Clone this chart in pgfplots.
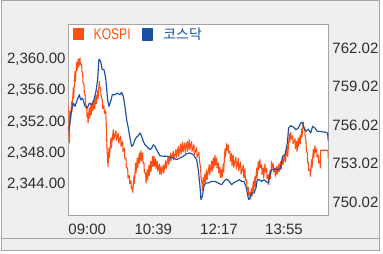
\documentclass[border=0pt]{standalone}
\usepackage{pgfplots}
\pgfplotsset{compat=1.18}
\usepackage{fontspec}
\setmainfont{Liberation Sans}
\newfontfamily\legfont[FakeStretch=0.78]{Liberation Sans}
\newfontfamily\krfont{Noto Sans CJK KR}
\definecolor{kospi}{RGB}{255,80,20}
\definecolor{kosdaq}{RGB}{25,80,160}
\definecolor{bgc}{RGB}{239,239,239}
\definecolor{framec}{RGB}{165,165,165}
\definecolor{ticktext}{RGB}{45,45,45}
\pgfplotsset{
  base/.style={
    scale only axis, width=260pt, height=191.7pt,
    at={(68.3pt,38.3pt)}, anchor=south west,
    xmin=0, xmax=390, major tick length=0pt,
    tick label style={font=\fontsize{15}{15}\selectfont, text=ticktext},
  }
}
\begin{document}
\begin{tikzpicture}[x=1pt,y=1pt]
\useasboundingbox (0,0) rectangle (383,254);
\fill[white] (0,0) rectangle (383,254);
\fill[bgc] (1.5,3.5) rectangle (379,253);
\draw[framec, line width=1pt] (1.5,3.5) rectangle (379,253);
\draw[framec, line width=1pt] (1.5,15) -- (379,15);

\begin{axis}[base,
  axis background/.style={fill=white},
  axis line style={framec, line width=0.8pt},
  ymin=2339.91, ymax=2364.59,
  xtick={0,99,197.5,295}, xticklabels={09:00,10:39,12:17,13:55},
  xticklabel style={anchor=north west, inner sep=0pt, yshift=-8pt},
  ytick={2344,2348,2352,2356,2360},
  yticklabels={{2,344.00},{2,348.00},{2,352.00},{2,356.00},{2,360.00}},
  yticklabel style={anchor=east, inner sep=0pt, xshift=-2.6pt},
  ytick pos=left, xtick pos=bottom,
]
\addplot[kospi, line width=1.1pt, line join=round, no marks] coordinates {
(0,2354.21)(0.6,2352.92)(1,2350.13)(1.6,2349.27)(2.5,2353.34)(3.1,2352.06)
(5,2354.63)(5.6,2353.35)(7.5,2356.35)(8.1,2355.07)(10,2358.49)(10.6,2357.21)
(12.5,2359.66)(13.1,2358.62)(15,2360.09)(15.6,2359.05)(17.5,2360.22)(18.1,2359.36)
(20,2359.45)(20.6,2358.41)(21.5,2358.28)(22.1,2357.00)(23.5,2356.78)(24.1,2355.50)
(25.5,2355.49)(26.1,2354.21)(27.5,2354.12)(28.1,2352.58)(29,2353.13)(29.6,2351.85)
(31.5,2353.77)(32.1,2352.49)(34,2354.20)(34.6,2352.92)(36.5,2354.51)(37.1,2353.47)
(39,2354.73)(39.6,2353.69)(41.5,2355.37)(42.1,2354.33)(44,2356.01)(44.6,2354.97)
(46.5,2357.21)(47.1,2356.35)(48.5,2356.44)(49.1,2355.40)(51,2354.73)(51.6,2353.69)
(53.5,2354.08)(54.1,2353.04)(56,2353.44)(56.6,2352.40)(57.5,2350.13)(58.1,2348.41)
(59,2347.12)(59.6,2346.26)(61,2348.62)(61.6,2347.34)(64,2349.91)(64.6,2348.63)
(67.5,2350.98)(68.1,2349.70)(71.5,2350.85)(72.1,2349.57)(75,2350.55)(75.6,2349.27)
(78.5,2350.12)(79.1,2348.84)(81.5,2349.48)(82.1,2348.20)(84,2348.62)(84.6,2347.34)
(86.5,2347.33)(87.1,2346.05)(89,2346.05)(89.6,2344.77)(91.5,2345.07)(92.1,2344.03)
(94,2344.42)(94.6,2343.38)(96,2343.60)(96.6,2342.92)(98.5,2345.07)(99.1,2344.03)
(101,2346.69)(101.6,2345.41)(103.5,2347.33)(104.1,2346.05)(106.5,2347.98)(107.1,2346.70)
(109,2348.28)(109.6,2347.00)(111.5,2347.98)(112.1,2346.70)(113.5,2346.69)(114.1,2345.41)
(116,2345.40)(116.6,2344.12)(118.5,2345.83)(119.1,2344.55)(121,2346.39)(121.6,2345.11)
(123.5,2346.91)(124.1,2345.63)(126.5,2347.55)(127.1,2346.27)(128.5,2347.55)(129.1,2346.27)
(131,2347.25)(131.6,2345.97)(133.5,2346.91)(134.1,2345.63)(136.5,2346.56)(137.1,2345.28)
(139,2346.27)(139.6,2345.23)(142.5,2346.44)(143.1,2345.40)(146,2347.00)(146.6,2345.96)
(150,2347.56)(150.6,2346.52)(153.5,2347.99)(154.1,2346.95)(157.5,2348.16)(158.1,2347.12)
(161.5,2348.42)(162.1,2347.38)(165,2348.84)(165.6,2347.56)(168.5,2349.14)(169.1,2347.86)
(171.5,2349.39)(172.1,2348.11)(175,2349.27)(175.6,2347.99)(178.5,2349.48)(179.1,2348.20)
(181.5,2349.70)(182.1,2348.42)(185,2349.48)(185.6,2348.20)(188.5,2349.05)(189.1,2347.77)
(192.5,2348.71)(193.1,2347.43)(196,2348.07)(196.6,2347.03)(198.5,2346.05)(199.1,2344.77)
(200.5,2344.21)(201.1,2343.17)(202.5,2344.85)(203.1,2343.81)(205,2345.28)(205.6,2344.24)
(207.5,2345.83)(208.1,2344.55)(211.5,2346.48)(212.1,2345.20)(215,2346.91)(215.6,2345.63)
(217.5,2347.33)(218.1,2346.05)(220,2347.68)(220.6,2346.40)(222.5,2347.33)(223.1,2346.05)
(225,2346.69)(225.6,2345.41)(227.5,2346.13)(228.1,2344.85)(230,2345.84)(230.6,2344.80)
(232.5,2346.57)(233.1,2345.53)(235,2348.50)(235.6,2347.46)(237.5,2349.18)(238.1,2348.32)
(240,2349.02)(240.6,2347.98)(242.5,2348.19)(243.1,2346.91)(245,2347.89)(245.6,2346.35)
(247.5,2347.68)(248.1,2346.14)(251.5,2347.46)(252.1,2345.92)(255,2347.25)(255.6,2345.71)
(258.5,2346.82)(259.1,2345.28)(262.5,2346.39)(263.1,2344.85)(265,2345.96)(265.6,2344.42)
(267.5,2344.54)(268.1,2343.26)(270,2343.57)(270.6,2342.53)(272.5,2342.92)(273.1,2342.06)
(275,2343.44)(275.6,2342.40)(277.5,2344.33)(278.1,2343.05)(280,2344.97)(280.6,2343.69)
(282.5,2346.05)(283.1,2344.77)(285,2346.87)(285.6,2345.83)(287.5,2347.13)(288.1,2346.09)
(290,2346.48)(290.6,2345.20)(292.5,2346.05)(293.1,2344.77)(295,2346.57)(295.6,2345.53)
(297.5,2345.96)(298.1,2344.68)(300,2345.19)(300.6,2343.91)(302.5,2345.71)(303.1,2344.67)
(305,2346.91)(305.6,2346.05)(307.5,2346.57)(308.1,2345.53)(310,2346.01)(310.6,2344.97)
(312.5,2346.27)(313.1,2345.23)(315.5,2346.57)(316.1,2345.53)(318.5,2346.87)(319.1,2345.83)
(321.5,2347.56)(322.1,2346.52)(325,2347.86)(325.6,2346.82)(328.5,2348.84)(329.1,2347.56)
(331.5,2350.43)(332.1,2349.39)(333.5,2350.64)(334.1,2349.78)(336.5,2350.22)(337.1,2349.18)
(340,2349.82)(340.6,2348.54)(342.5,2349.48)(343.1,2348.20)(345,2349.88)(345.6,2348.84)
(347.5,2350.22)(348.1,2349.18)(350,2351.08)(350.6,2350.04)(352.5,2351.97)(353.1,2351.29)
(354.5,2351.29)(355.1,2350.25)(356.5,2349.48)(357.1,2348.20)(358.5,2347.98)(359.1,2346.70)
(360,2346.79)(360.6,2345.75)(362.5,2345.84)(363.1,2344.98)(365,2347.13)(365.6,2346.09)
(367.5,2348.42)(368.1,2347.38)(370,2348.93)(370.6,2348.07)(372.5,2348.50)(373.1,2347.46)
(375,2347.73)(375.6,2346.69)(377.5,2346.91)(378.1,2346.05)
(378.5,2348.33)(389.5,2348.33)(390,2347.34)
};
\end{axis}

\begin{axis}[base,
  axis line style={draw=none},
  ymin=748.98, ymax=763.89,
  xtick=\empty,
  ytick={750.02,753.02,756.02,759.02,762.02},
  yticklabels={750.02,753.02,756.02,759.02,762.02},
  yticklabel pos=right, ytick pos=right,
  yticklabel style={anchor=west, inner sep=0pt, xshift=4pt},
  legend columns=2,
  legend image code/.code={\fill[#1] (0pt,-5.5pt) rectangle (10.5pt,5.5pt);},
  legend style={at={(axis description cs:0,1)}, anchor=north west,
    xshift=4.7pt, yshift=-3.7pt, draw=none, fill=none, inner sep=0pt,
    nodes={inner sep=0pt},
    /tikz/every odd column/.append style={column sep=10pt},
    /tikz/every even column/.append style={column sep=11pt}},
]
\addlegendimage{kospi, line width=0pt}
\addlegendentry{\textcolor{kospi}{\legfont\fontsize{15.5}{15.5}\selectfont KOSPI}}
\addplot[kosdaq, line width=1.15pt, line join=round, no marks] coordinates {
(0,755.54)(2.5,756.19)(5,757.22)(7.5,757.74)(10,757.48)(13.5,758.00)(16.5,758.39)
(18.5,758.00)(21.5,758.13)(25,757.48)(28.5,757.35)(31.5,757.74)(35,757.61)(38.5,758.00)
(41.5,758.65)(44,759.56)(46,761.16)(48.5,760.98)(51,760.34)(53.5,760.34)(56,759.69)
(57.5,758.91)(59,758.00)(61,757.48)(63.5,757.87)(66,758.39)(70,758.39)(73.5,758.52)
(77.5,758.39)(80,758.57)(82.5,758.26)(85,757.48)(87.5,756.45)(90,755.80)(92.5,755.02)
(95,754.37)(97.5,754.50)(100,754.89)(102.5,755.10)(105,755.20)(107.5,755.41)(110,755.15)
(112.5,754.76)(115,754.50)(117.5,754.37)(120,754.24)(122.5,754.11)(125,754.24)(127.5,754.50)
(130,754.37)(132.5,754.11)(135,753.86)(137.5,753.65)(142.5,753.60)(147.5,753.60)(152.5,753.54)
(157.5,753.47)(162.5,753.34)(167.5,753.47)(172.5,753.60)(177.5,753.80)(182.5,753.86)
(187.5,753.73)(192.5,753.34)(195,752.56)(197.5,751.26)(199,750.23)(201,750.49)(203.5,751.26)
(206,751.52)(210,751.52)(215,751.65)(220,751.65)(225,751.52)(230,751.39)(233.5,751.65)
(237.5,751.83)(241.5,751.65)(245,751.39)(247.5,751.52)(252.5,751.65)(256.5,751.78)
(260,751.65)(263.5,751.65)(266.5,751.26)(268.5,750.74)(270.5,750.23)(272.5,750.36)
(275,750.74)(278.5,750.74)(281.5,751.13)(283.5,751.78)(286.5,751.78)(290,751.65)
(293.5,751.78)(296.5,751.65)(300,751.52)(302.5,752.17)(305,752.56)(310,752.61)
(315,752.56)(318.5,752.69)(321.5,753.60)(325,753.73)(328.5,754.63)(330.5,755.80)
(333.5,755.98)(337.5,755.88)(341.5,755.67)(345,755.80)(348.5,756.19)(351,756.24)
(353.5,755.80)(356.5,755.54)(360,755.72)(363.5,755.41)(366.5,755.93)(370,755.80)
(373.5,755.54)(377.5,755.54)(382.5,755.49)(386.5,755.46)(389,755.41)(390,754.76)
};
\addlegendentry{\textcolor{kosdaq}{\krfont\fontsize{14}{14}\selectfont 코스닥}}
\end{axis}
\end{tikzpicture}
\end{document}
